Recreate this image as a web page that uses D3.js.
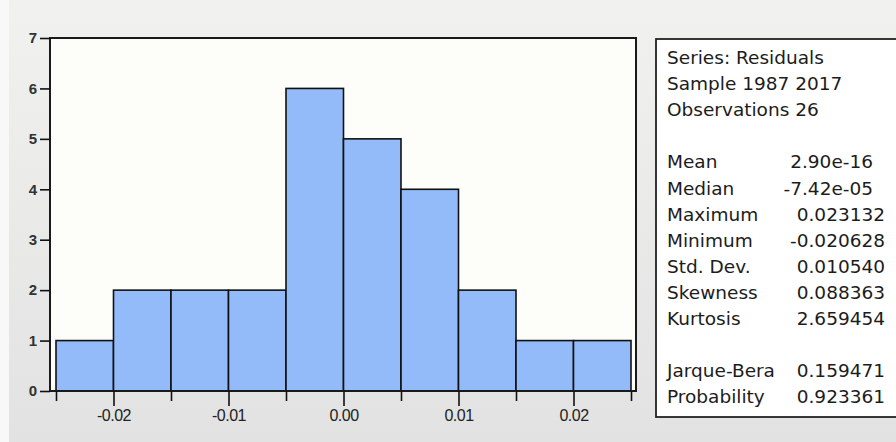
<!DOCTYPE html>
<html>
<head>
<meta charset="utf-8">
<script src="https://cdn.jsdelivr.net/npm/d3@7"></script>
<style>
  body { margin: 0; background: #fff; }
  svg { display: block; }
</style>
</head>
<body>
<div id="chart"></div>
<script>
// histogram of residuals, bin width 0.005
var binStarts = [-0.025, -0.020, -0.015, -0.010, -0.005, 0.000, 0.005, 0.010, 0.015, 0.020];
var counts    = [1, 2, 2, 2, 6, 5, 4, 2, 1, 1];
var binWidth  = 0.005;
var majorTicks = [-0.02, -0.01, 0.00, 0.01, 0.02];
var minorTicks = [-0.025, -0.015, -0.005, 0.005, 0.015, 0.025];
var yTicks = [0, 1, 2, 3, 4, 5, 6, 7];

var headerLines = ["Series: Residuals", "Sample 1987 2017", "Observations 26"];
var statNames  = ["Mean", "Median", "Maximum", "Minimum", "Std. Dev.", "Skewness", "Kurtosis"];
var statValues = ["2.90e-16", "-7.42e-05", "0.023132", "-0.020628", "0.010540", "0.088363", "2.659454"];
var testNames  = ["Jarque-Bera", "Probability"];
var testValues = ["0.159471", "0.923361"];

var W = 896, H = 442;
var svg = d3.select("#chart").append("svg")
    .attr("width", W).attr("height", H);

var defs = svg.append("defs");
var bg = defs.append("linearGradient").attr("id", "bg")
    .attr("x1", 0).attr("y1", 0).attr("x2", 0).attr("y2", 1);
bg.append("stop").attr("offset", "0%").attr("stop-color", "#f1f1ef");
bg.append("stop").attr("offset", "100%").attr("stop-color", "#e2e2e2");

svg.append("rect").attr("width", W).attr("height", H).attr("fill", "#f8f8f8");
svg.append("rect").attr("x", 9).attr("y", 0).attr("width", W - 9).attr("height", H)
    .attr("fill", "url(#bg)");

// plot frame
var frame = {left: 50, right: 636, top: 38, bottom: 391};

var x = d3.scaleLinear().domain([-0.025, 0.025]).range([56, 631]);
var y = d3.scaleLinear().domain([0, 7]).range([frame.bottom, frame.top]);

svg.append("rect")
    .attr("x", frame.left).attr("y", frame.top)
    .attr("width", frame.right - frame.left).attr("height", frame.bottom - frame.top)
    .attr("fill", "#fdfdf9");

// bars
svg.append("g").selectAll("rect")
  .data(binStarts)
  .join("rect")
    .attr("x", function(d) { return x(d); })
    .attr("y", function(d, i) { return y(counts[i]); })
    .attr("width", function(d) { return x(d + binWidth) - x(d); })
    .attr("height", function(d, i) { return y(0) - y(counts[i]); })
    .attr("fill", "#93bbf9")
    .attr("stroke", "#111")
    .attr("stroke-width", 1.6);

// frame lines
svg.append("rect")
    .attr("x", frame.left).attr("y", frame.top)
    .attr("width", frame.right - frame.left).attr("height", frame.bottom - frame.top)
    .attr("fill", "none")
    .attr("stroke", "#1a1a1a")
    .attr("stroke-width", 2);

var tickFont = "Liberation Sans, Arial, sans-serif";

// y axis
var axisY = svg.append("g")
    .attr("transform", "translate(" + frame.left + ",0)")
    .call(d3.axisLeft(y).tickValues(yTicks).tickSize(10).tickSizeOuter(0).tickFormat(d3.format("d")))
    .attr("font-size", 15)
    .attr("font-family", tickFont);
axisY.select(".domain").remove();
axisY.selectAll(".tick line").attr("stroke", "#111").attr("stroke-width", 1.6);
axisY.selectAll(".tick text")
    .attr("x", -13)
    .attr("font-weight", "bold")
    .attr("fill", "#333");

// x axis: major and minor ticks
var fmtX = function(d) { return d3.format(".2f")(d).replace("\u2212", "-"); };
var axisX = svg.append("g")
    .attr("transform", "translate(0," + frame.bottom + ")")
    .call(d3.axisBottom(x).tickValues(majorTicks).tickSize(15).tickFormat(fmtX))
    .attr("font-size", 16)
    .attr("font-family", tickFont);
axisX.select(".domain").remove();
axisX.selectAll(".tick line").attr("stroke", "#111").attr("stroke-width", 1.6);
axisX.selectAll(".tick text")
    .attr("y", 19)
    .attr("letter-spacing", -0.5)
    .attr("fill", "#222");

var axisXm = svg.append("g")
    .attr("transform", "translate(0," + frame.bottom + ")")
    .call(d3.axisBottom(x).tickValues(minorTicks).tickSize(10).tickFormat(""));
axisXm.select(".domain").remove();
axisXm.selectAll(".tick line").attr("stroke", "#111").attr("stroke-width", 1.6);

// statistics box
var box = svg.append("g");
box.append("rect")
    .attr("x", 656).attr("y", 39)
    .attr("width", 260).attr("height", 378)
    .attr("fill", "#fff")
    .attr("stroke", "#222")
    .attr("stroke-width", 1.8);

var lineH = 26.1, firstY = 64, labelX = 667, valueX = 885;
var font = "DejaVu Sans, Verdana, sans-serif";

function addText(txt, row, xpos, anchor) {
  box.append("text")
    .attr("x", xpos)
    .attr("y", firstY + row * lineH)
    .attr("text-anchor", anchor)
    .style("font-family", font)
    .style("font-size", "18.5px")
    .attr("fill", "#1c1c1c")
    .text(txt);
}

headerLines.forEach(function(t, i) { addText(t, i, labelX, "start"); });
statNames.forEach(function(t, i) {
  addText(t, 4 + i, labelX, "start");
  // e-notation values sit a little further left, as in the original output
  var vx = statValues[i].indexOf("e") >= 0 ? valueX - 12 : valueX;
  addText(statValues[i], 4 + i, vx, "end");
});
testNames.forEach(function(t, i) {
  addText(t, 12 + i, labelX, "start");
  addText(testValues[i], 12 + i, valueX, "end");
});
</script>
</body>
</html>
